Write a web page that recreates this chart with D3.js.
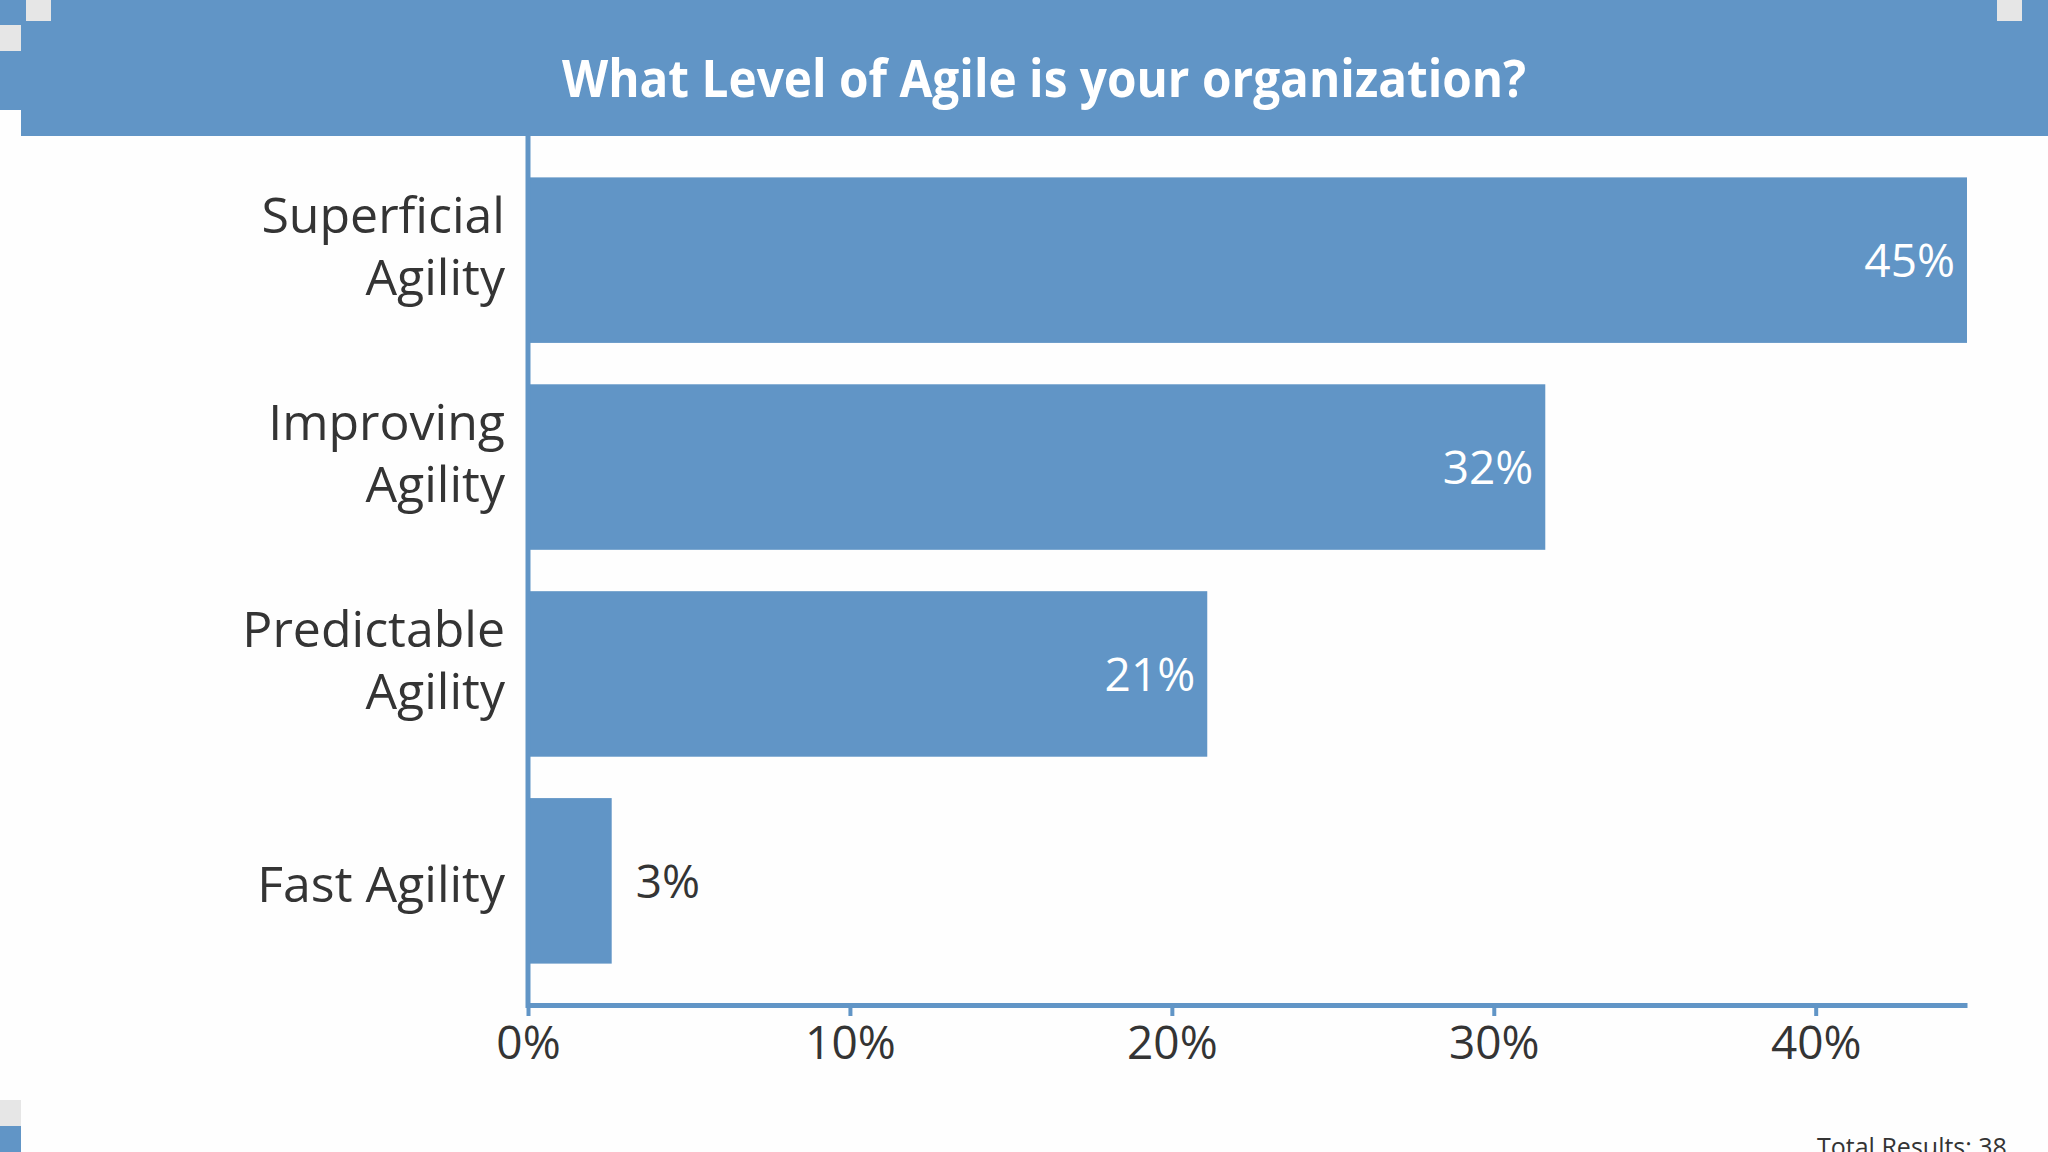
<!DOCTYPE html>
<html>
<head>
<meta charset="utf-8">
<script src="https://cdn.jsdelivr.net/npm/d3@7"></script>
<style>
  html, body { margin: 0; padding: 0; background: #fefefe; }
  svg { display: block; }
</style>
</head>
<body>
<svg id="chart" width="2048" height="1152"></svg>
<script>
// ---- data ----
const title = "What Level of Agile is your organization?";
const categories = ["Superficial Agility", "Improving Agility", "Predictable Agility", "Fast Agility"];
const values = [44.7, 31.6, 21.1, 2.6];
const tickValues = [0, 10, 20, 30, 40];
const footnote = "Total Results: 38";

// ---- style ----
const W = 2048, H = 1152;
const blue = "#6195c6";
const grey = "#e6e6e6";
const textDark = "#343434";
const font = "'Open Sans', 'Noto Sans', sans-serif";

const svg = d3.select("#chart");
svg.append("rect").attr("width", W).attr("height", H).attr("fill", "#fefefe");

// header band
svg.append("rect").attr("x", 0).attr("y", 0).attr("width", W).attr("height", 110).attr("fill", blue);
svg.append("rect").attr("x", 21).attr("y", 110).attr("width", W - 21).attr("height", 26).attr("fill", blue);
// decorative corner squares
[[26, 0, 25, 21], [0, 25, 21, 26], [1997, 0, 25, 21], [0, 1100, 21, 26]].forEach(r => {
  svg.append("rect").attr("x", r[0]).attr("y", r[1]).attr("width", r[2]).attr("height", r[3]).attr("fill", grey);
});
svg.append("rect").attr("x", 0).attr("y", 1126).attr("width", 21).attr("height", 26).attr("fill", blue);

// title
const titleW = 964, titleCx = 1044;
svg.append("text")
  .attr("x", titleCx - titleW / 2).attr("y", 97)
  .attr("textLength", titleW).attr("lengthAdjust", "spacingAndGlyphs")
  .attr("font-family", font).attr("font-weight", 700).attr("font-size", 52)
  .attr("fill", "#ffffff")
  .text(title);

// scales
const x0 = 528, x1 = 1967, yTop = 136, yBot = 1005;
const x = d3.scaleLinear().domain([0, d3.max(values)]).range([x0, x1]);
const y = d3.scaleBand().domain(categories).range([yTop, yBot]).paddingInner(0.2).paddingOuter(0.2);

// bars
svg.append("g").selectAll("rect").data(categories).join("rect")
  .attr("x", x(0))
  .attr("y", d => y(d))
  .attr("width", (d, i) => x(values[i]) - x(0))
  .attr("height", y.bandwidth())
  .attr("fill", blue);

// value labels
const vl = svg.append("g").attr("font-family", font).attr("font-size", 46);
categories.forEach((c, i) => {
  const t = vl.append("text")
    .attr("y", y(c) + y.bandwidth() / 2 + 17)
    .text(Math.round(values[i]) + "%");
  const tw = t.node().getComputedTextLength();
  const bw = x(values[i]) - x(0);
  if (bw > tw + 24) {
    t.attr("x", x(values[i]) - 12).attr("text-anchor", "end").attr("fill", "#ffffff");
  } else {
    t.attr("x", x(values[i]) + 24).attr("text-anchor", "start").attr("fill", textDark);
  }
});

// x axis
const xAxis = d3.axisBottom(x).tickValues(tickValues).tickFormat(d => d + "%").tickSizeInner(11).tickSizeOuter(0).tickPadding(10);
const gx = svg.append("g").attr("transform", `translate(0,${yBot})`).call(xAxis);
gx.select(".domain").attr("stroke", blue).attr("stroke-width", 5);
gx.selectAll(".tick line").attr("stroke", blue).attr("stroke-width", 4);
gx.selectAll(".tick text").attr("font-family", font).attr("font-size", 46).attr("fill", textDark);

// y axis
const yAxis = d3.axisLeft(y).tickSize(0).tickFormat("");
const gy = svg.append("g").attr("transform", `translate(${x0},0)`).call(yAxis);
gy.select(".domain").attr("stroke", blue).attr("stroke-width", 5)
  .attr("d", `M0,${yTop}V${yBot + 3}`);

// category labels (wrapped)
const cl = svg.append("g").attr("font-family", font).attr("font-size", 50).attr("fill", textDark).attr("text-anchor", "end");
categories.forEach(c => {
  const cy = y(c) + y.bandwidth() / 2;
  const probe = cl.append("text").text(c);
  const w = probe.node().getComputedTextLength();
  probe.remove();
  const lines = w > 330 ? c.split(" ") : [c];
  const lh = 62;
  const base = lines.length > 1 ? cy - 27 : cy + 21;
  const t = cl.append("text").attr("x", 505);
  lines.forEach((ln, k) => {
    t.append("tspan").attr("x", 505).attr("y", base + k * lh).text(ln);
  });
});

// footnote
svg.append("text")
  .attr("x", 1817).attr("y", 1156)
  .attr("font-family", font).attr("font-size", 25).attr("fill", textDark)
  .text(footnote);
</script>
</body>
</html>
